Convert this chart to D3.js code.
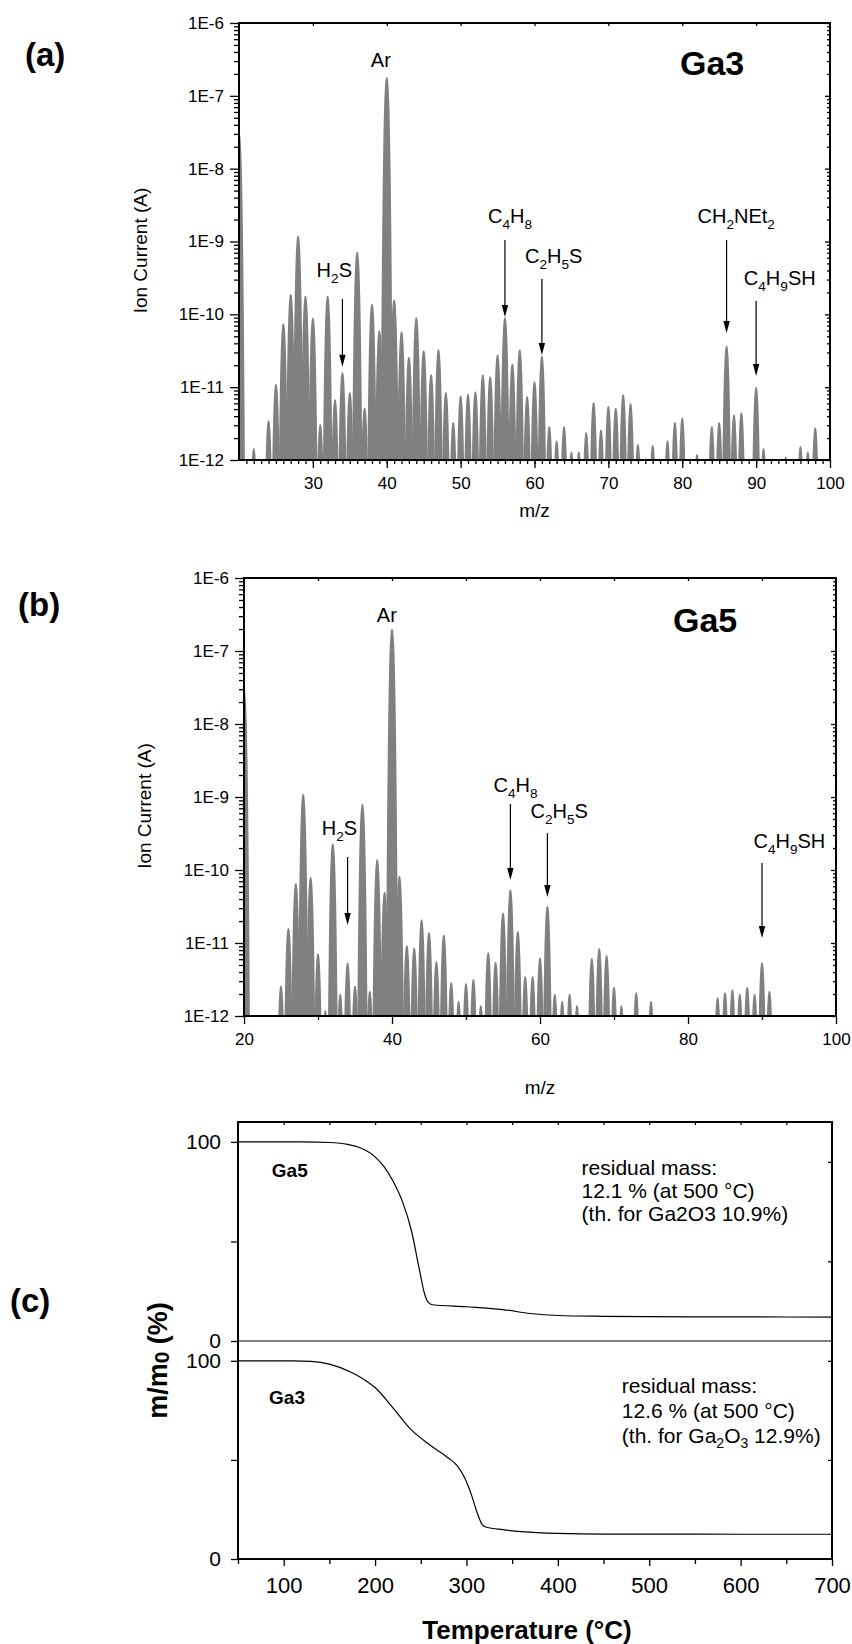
<!DOCTYPE html>
<html>
<head>
<meta charset="utf-8">
<title>Ga3 / Ga5 mass spectra and TG</title>
<script src="https://cdn.jsdelivr.net/npm/d3@7"></script>
<style>
  body { margin: 0; background: #fff; }
  svg text { font-family: "Liberation Sans", Arial, Helvetica, sans-serif; fill: #000; }
</style>
</head>
<body>
<svg id="chart" width="852" height="1644"></svg>
<script>
"use strict";

// ---------------- data ----------------

// (a) Ga3 : nominal m/z and peak ion current (A)
const mzGa3 = [20, 22, 24, 25, 26, 27, 28, 29, 30, 31, 32, 33, 34, 35, 36, 37, 38, 39, 40,
  41, 42, 43, 44, 45, 46, 47, 48, 49, 50, 51, 52, 53, 54, 55, 56, 57, 58, 59, 60,
  61, 62, 63, 64, 65, 66, 67, 68, 69, 70, 71, 72, 73, 74, 75, 76, 78, 79, 80,
  82, 84, 85, 86, 87, 88, 90, 91, 94, 96, 97, 98];
const ionGa3 = [3.1e-8, 1.45e-12, 3.5e-12, 1.1e-11, 7.5e-11, 1.9e-10, 1.2e-9, 1.8e-10, 9e-11, 3.1e-12, 1.8e-10, 6.8e-12, 1.6e-11, 8.5e-12, 7.2e-10, 5.2e-12, 1.4e-10, 6e-11, 1.8e-7,
  1.6e-10, 5.8e-11, 2.6e-11, 9.1e-11, 3.2e-11, 1.5e-11, 3.3e-11, 8.5e-12, 3.3e-12, 7.6e-12, 8.1e-12, 8.7e-12, 1.5e-11, 1.4e-11, 2.8e-11, 9.1e-11, 2.1e-11, 3.3e-11, 7.5e-12, 1.2e-11,
  2.7e-11, 2.9e-12, 1.85e-12, 2.9e-12, 1.3e-12, 1.3e-12, 2.4e-12, 6.2e-12, 2.6e-12, 5.5e-12, 5.2e-12, 8e-12, 6e-12, 1.65e-12, 1.05e-12, 1.6e-12, 1.85e-12, 3.3e-12, 3.8e-12,
  1.2e-12, 2.9e-12, 3.3e-12, 3.7e-11, 4.2e-12, 4.5e-12, 1e-11, 1.45e-12, 1.1e-12, 1.55e-12, 1.3e-12, 2.8e-12];

// (b) Ga5
const mzGa5 = [20, 25, 26, 27, 28, 29, 30, 31, 32, 33, 34, 35, 36, 37, 38, 39, 40,
  41, 42, 43, 44, 45, 46, 47, 48, 49, 50, 51, 52, 53, 54, 55, 56, 57, 58, 59, 60,
  61, 62, 63, 64, 65, 67, 68, 69, 70, 71, 73, 75,
  84, 85, 86, 87, 88, 89, 90, 91];
const ionGa5 = [2.9e-8, 2.6e-12, 1.6e-11, 6.6e-11, 1.1e-9, 8e-11, 7.2e-12, 1.2e-12, 2.3e-10, 2e-12, 5.4e-12, 2.6e-12, 8e-10, 2.2e-12, 1.4e-10, 5e-11, 2e-7,
  8.3e-11, 9.3e-12, 8.6e-12, 2.1e-11, 1.4e-11, 5.6e-12, 1.3e-11, 2.9e-12, 1.6e-12, 2.8e-12, 3.2e-12, 1.4e-12, 7.4e-12, 5.5e-12, 2.6e-11, 5.4e-11, 1.45e-11, 3.5e-12, 3.5e-12, 6.3e-12,
  3.2e-11, 2e-12, 1.6e-12, 2e-12, 1.4e-12, 6.2e-12, 8.5e-12, 6.8e-12, 2.5e-12, 1.4e-12, 2.1e-12, 1.6e-12,
  1.8e-12, 2.1e-12, 2.3e-12, 2e-12, 2.5e-12, 2e-12, 5.4e-12, 2.2e-12];

// axis ticks of the spectra
const ionDecades = [1e-12, 1e-11, 1e-10, 1e-9, 1e-8, 1e-7, 1e-6];
const mzTicksA = [30, 40, 50, 60, 70, 80, 90, 100];
const mzTicksB = [20, 40, 60, 80, 100];

// peak assignments: label parts ("s" = subscript), label spot (m/z, A), arrow m/z, arrow top and tip (A)
const notesGa3 = [
  { parts: [["Ar"]], at: [39.2, 2.5e-7] },
  { parts: [["H"], ["2", "s"], ["S"]], at: [32.9, 3.25e-10], arrow: [34, 1.62e-10, 1.9e-11] },
  { parts: [["C"], ["4", "s"], ["H"], ["8", "s"]], at: [56.7, 1.79e-9], arrow: [56, 1.05e-9, 9.2e-11] },
  { parts: [["C"], ["2", "s"], ["H"], ["5", "s"], ["S"]], at: [62.6, 5.07e-10], arrow: [61, 3.06e-10, 2.76e-11] },
  { parts: [["CH"], ["2", "s"], ["NEt"], ["2", "s"]], at: [87.3, 1.79e-9], arrow: [86, 1.05e-9, 5.55e-11] },
  { parts: [["C"], ["4", "s"], ["H"], ["9", "s"], ["SH"]], at: [93.2, 2.53e-10], arrow: [90, 1.52e-10, 1.42e-11] }
];
const notesGa5 = [
  { parts: [["Ar"]], at: [39.3, 2.5e-7] },
  { parts: [["H"], ["2", "s"], ["S"]], at: [32.9, 3.0e-10], arrow: [34, 1.51e-10, 1.77e-11] },
  { parts: [["C"], ["4", "s"], ["H"], ["8", "s"]], at: [56.7, 1.17e-9], arrow: [56, 8.0e-10, 7.3e-11] },
  { parts: [["C"], ["2", "s"], ["H"], ["5", "s"], ["S"]], at: [62.6, 5.15e-10], arrow: [61, 3.21e-10, 4.27e-11] },
  { parts: [["C"], ["4", "s"], ["H"], ["9", "s"], ["SH"]], at: [93.7, 2.0e-10], arrow: [90, 1.25e-10, 1.17e-11] }
];

// (c) thermogravimetry, temperature (°C) and m/m0 (%)
const tempGa5 = [50, 120, 150, 170, 185, 200, 210, 220, 230, 240, 248, 254, 258, 263, 300, 340, 370, 400, 450, 500, 600, 700];
const massGa5 = [100, 100, 99.7, 98.8, 96.8, 92.5, 87.5, 80, 70, 55, 37, 24, 19.5, 18.2, 17.2, 15.8, 13.8, 12.8, 12.4, 12.2, 12.1, 12.0];
const tempGa3 = [50, 110, 130, 150, 175, 190, 200, 220, 240, 260, 280, 290, 298, 305, 312, 317, 322, 340, 360, 400, 450, 500, 600, 700];
const massGa3 = [100, 100, 99.7, 98.3, 94, 90, 86.5, 76, 65, 57.5, 51, 47, 41, 33, 23, 17.5, 16, 14.8, 13.8, 12.9, 12.6, 12.6, 12.5, 12.5];
const tempTicks = [100, 200, 300, 400, 500, 600, 700];
const tempMinor = [50, 150, 250, 350, 450, 550, 650];
const massTicks = [0, 50, 100];

// ---------------- drawing ----------------
const svg = d3.select("#chart");
const defs = svg.append("defs");
const floorI = 1e-12;
// shape of one peak on the log axis: decades lost = peakK * |dm|^peakP
const peakK = 9, peakP = 3;

function richText(sel, parts, size) {
  let down = false;
  parts.forEach(p => {
    const t = sel.append("tspan").text(p[0]);
    if (p[1] === "s") {
      t.attr("font-size", size * 0.68);
      if (!down) { t.attr("dy", size * 0.28); down = true; }
    } else if (down) {
      t.attr("dy", -size * 0.28);
      down = false;
    }
  });
}

function tidyAxis(sel, size) {
  sel.select(".domain").remove();
  sel.selectAll(".tick line").attr("stroke", "#000").attr("stroke-width", 1.3);
  sel.selectAll(".tick text").attr("font-size", size).attr("fill", "#000")
    .attr("font-family", "'Liberation Sans', Arial, sans-serif");
}

function spectrum(p) {
  const x = d3.scaleLinear().domain([20, 100]).range([p.left, p.right]);
  const y = d3.scaleLog().domain([1e-12, 1e-6]).range([p.bottom, p.top]);
  const g = svg.append("g");

  defs.append("clipPath").attr("id", "clip-" + p.tag)
    .append("rect").attr("x", p.left).attr("y", p.top)
    .attr("width", p.right - p.left).attr("height", p.bottom - p.top);

  const area = d3.area()
    .x(d => x(d[0]))
    .y0(y(floorI))
    .y1(d => y(Math.max(floorI, d[1])));

  const peaks = g.append("g").attr("clip-path", "url(#clip-" + p.tag + ")");
  p.mz.forEach((m, i) => {
    const top = Math.log10(p.ion[i]);
    const hw = Math.pow((top + 12) / peakK, 1 / peakP);
    const shape = d3.range(-20, 21).map(k => {
      const dm = hw * k / 20;
      return [m + dm, Math.pow(10, top - peakK * Math.pow(Math.abs(dm), peakP))];
    });
    peaks.append("path").attr("d", area(shape)).attr("fill", "#808080");
  });

  // left axis: decades + minor log ticks
  const minor = [];
  for (let e = -12; e < -6; e++) for (let k = 2; k < 10; k++) minor.push(k * Math.pow(10, e));

  g.append("g").attr("transform", `translate(${p.left},0)`)
    .call(d3.axisLeft(y).tickValues(ionDecades).tickSize(9).tickPadding(6)
      .tickFormat(d => "1E" + Math.round(Math.log10(d))))
    .call(s => tidyAxis(s, 17));
  g.append("g").attr("transform", `translate(${p.left},0)`)
    .call(d3.axisLeft(y).tickValues(minor).tickSize(5).tickFormat(""))
    .call(s => tidyAxis(s, 17));
  // right axis, inward
  g.append("g").attr("transform", `translate(${p.right},0)`)
    .call(d3.axisLeft(y).tickValues(minor).tickSize(3).tickFormat(""))
    .call(s => tidyAxis(s, 17));
  g.append("g").attr("transform", `translate(${p.right},0)`)
    .call(d3.axisLeft(y).tickValues(ionDecades).tickSize(5).tickFormat(""))
    .call(s => tidyAxis(s, 17));

  // bottom axis
  g.append("g").attr("transform", `translate(0,${p.bottom})`)
    .call(d3.axisBottom(x).tickValues(p.xMinor).tickSize(4).tickFormat(""))
    .call(s => tidyAxis(s, 17));
  g.append("g").attr("transform", `translate(0,${p.bottom})`)
    .call(d3.axisBottom(x).tickValues(p.xMajor).tickSize(8).tickPadding(9))
    .call(s => tidyAxis(s, 17));
  // top axis, inward
  g.append("g").attr("transform", `translate(0,${p.top})`)
    .call(d3.axisBottom(x).tickValues(d3.range(30, 100, 10)).tickSize(3).tickFormat(""))
    .call(s => tidyAxis(s, 17));

  // frame
  g.append("rect")
    .attr("x", p.left).attr("y", p.top)
    .attr("width", p.right - p.left).attr("height", p.bottom - p.top)
    .attr("fill", "none").attr("stroke", "#000").attr("stroke-width", 2);

  // assignments
  p.notes.forEach(n => {
    const t = g.append("text")
      .attr("x", x(n.at[0])).attr("y", y(n.at[1]))
      .attr("text-anchor", "middle").attr("font-size", 20);
    richText(t, n.parts, 20);
    if (n.arrow) {
      const ax = x(n.arrow[0]), y0 = y(n.arrow[1]), y1 = y(n.arrow[2]);
      g.append("line").attr("x1", ax).attr("x2", ax).attr("y1", y0).attr("y2", y1 - 10)
        .attr("stroke", "#000").attr("stroke-width", 1.2);
      g.append("path")
        .attr("d", `M${ax - 3.2},${y1 - 12}L${ax + 3.2},${y1 - 12}L${ax},${y1}Z`)
        .attr("fill", "#000");
    }
  });

  g.append("text").attr("x", p.nameX).attr("y", p.nameY)
    .attr("font-size", 34).attr("font-weight", "bold").text(p.name);

  g.append("text")
    .attr("transform", `translate(${p.yTitleX},${(p.top + p.bottom) / 2 + 9}) rotate(-90)`)
    .attr("text-anchor", "middle").attr("font-size", 19).text("Ion Current (A)");
  g.append("text").attr("x", (p.left + p.right) / 2).attr("y", p.xTitleY)
    .attr("text-anchor", "middle").attr("font-size", 19).text("m/z");

  g.append("text").attr("x", p.letterX).attr("y", p.letterY)
    .attr("font-size", 33).attr("font-weight", "bold").text(p.letter);
}

spectrum({
  tag: "a", left: 239, right: 830, top: 23, bottom: 460,
  mz: mzGa3, ion: ionGa3, notes: notesGa3,
  xMajor: mzTicksA, xMinor: d3.range(21, 100),
  name: "Ga3", nameX: 680, nameY: 75,
  yTitleX: 147, xTitleY: 517, letter: "(a)", letterX: 25, letterY: 66
});

spectrum({
  tag: "b", left: 244, right: 836, top: 578, bottom: 1016,
  mz: mzGa5, ion: ionGa5, notes: notesGa5,
  xMajor: mzTicksB, xMinor: [30, 50, 70, 90],
  name: "Ga5", nameX: 673, nameY: 632,
  yTitleX: 151, xTitleY: 1094, letter: "(b)", letterX: 18, letterY: 616
});

// ---- (c) TG curves, two stacked frames sharing the temperature axis ----
(function () {
  const left = 238, right = 832, top = 1122, mid = 1341, bottom = 1559;
  const x = d3.scaleLinear().domain([50, 700]).range([left, right]);
  const yUp = d3.scaleLinear().domain([0, 110]).range([mid, top]);
  const yLo = d3.scaleLinear().domain([0, 110]).range([bottom, mid]);
  const g = svg.append("g");

  const line = (ys) => d3.line().x(d => x(d[0])).y(d => ys(d[1])).curve(d3.curveMonotoneX);
  g.append("path").attr("d", line(yUp)(d3.zip(tempGa5, massGa5)))
    .attr("fill", "none").attr("stroke", "#000").attr("stroke-width", 1.2);
  g.append("path").attr("d", line(yLo)(d3.zip(tempGa3, massGa3)))
    .attr("fill", "none").attr("stroke", "#000").attr("stroke-width", 1.2);

  [yUp, yLo].forEach(ys => {
    g.append("g").attr("transform", `translate(${left},0)`)
      .call(d3.axisLeft(ys).tickValues(massTicks).tickSize(7).tickPadding(10)
        .tickFormat(d => d === 50 ? "" : d))
      .call(s => tidyAxis(s, 21));
  });
  // right edge, inward
  g.append("g").attr("transform", `translate(${right},0)`)
    .call(d3.axisLeft(yUp).tickValues([40, 90]).tickSize(4).tickFormat(""))
    .call(s => tidyAxis(s, 21));
  g.append("g").attr("transform", `translate(${right},0)`)
    .call(d3.axisLeft(yLo).tickValues([50, 100]).tickSize(4).tickFormat(""))
    .call(s => tidyAxis(s, 21));

  g.append("g").attr("transform", `translate(0,${bottom})`)
    .call(d3.axisBottom(x).tickValues(tempMinor).tickSize(5).tickFormat(""))
    .call(s => tidyAxis(s, 22));
  g.append("g").attr("transform", `translate(0,${bottom})`)
    .call(d3.axisBottom(x).tickValues(tempTicks).tickSize(7).tickPadding(11))
    .call(s => tidyAxis(s, 22));
  g.append("g").attr("transform", `translate(0,${top})`)
    .call(d3.axisBottom(x).tickValues(tempMinor.concat(tempTicks)).tickSize(3).tickFormat(""))
    .call(s => tidyAxis(s, 22));

  g.append("rect").attr("x", left).attr("y", top)
    .attr("width", right - left).attr("height", bottom - top)
    .attr("fill", "none").attr("stroke", "#000").attr("stroke-width", 2);
  g.append("line").attr("x1", left).attr("x2", right).attr("y1", mid).attr("y2", mid)
    .attr("stroke", "#000").attr("stroke-width", 1.2);

  g.append("text").attr("x", x(87)).attr("y", yUp(82.4))
    .attr("font-size", 19).attr("font-weight", "bold").text("Ga5");
  g.append("text").attr("x", x(84)).attr("y", yLo(78.2))
    .attr("font-size", 19).attr("font-weight", "bold").text("Ga3");

  const up = g.append("text").attr("x", x(426)).attr("y", yUp(83.4)).attr("font-size", 21);
  ["residual mass:", "12.1 % (at 500 °C)", "(th. for Ga2O3 10.9%)"].forEach((s, i) => {
    up.append("tspan").attr("x", x(426)).attr("dy", i ? 23 : 0).text(s);
  });

  const lo = g.append("text").attr("x", x(470)).attr("y", yLo(83.8)).attr("font-size", 21);
  lo.append("tspan").attr("x", x(470)).text("residual mass:");
  lo.append("tspan").attr("x", x(470)).attr("dy", 25).text("12.6 % (at 500 °C)");
  lo.append("tspan").attr("x", x(470)).attr("dy", 25).text("(th. for Ga");
  lo.append("tspan").attr("font-size", 14).attr("dy", 5).text("2");
  lo.append("tspan").attr("dy", -5).text("O");
  lo.append("tspan").attr("font-size", 14).attr("dy", 5).text("3");
  lo.append("tspan").attr("dy", -5).text(" 12.9%)");

  const yt = g.append("text")
    .attr("transform", `translate(167,${(top + bottom) / 2 + 20}) rotate(-90)`)
    .attr("text-anchor", "middle").attr("font-size", 27).attr("font-weight", "bold");
  yt.append("tspan").text("m/m");
  yt.append("tspan").attr("font-size", 21).attr("dy", 2).text("0");
  yt.append("tspan").attr("dy", -2).text(" (%)");

  g.append("text").attr("x", (left + right) / 2 - 8).attr("y", 1639)
    .attr("text-anchor", "middle").attr("font-size", 26).attr("font-weight", "bold")
    .text("Temperature (°C)");

  g.append("text").attr("x", 10).attr("y", 1312)
    .attr("font-size", 33).attr("font-weight", "bold").text("(c)");
})();
</script>
</body>
</html>
